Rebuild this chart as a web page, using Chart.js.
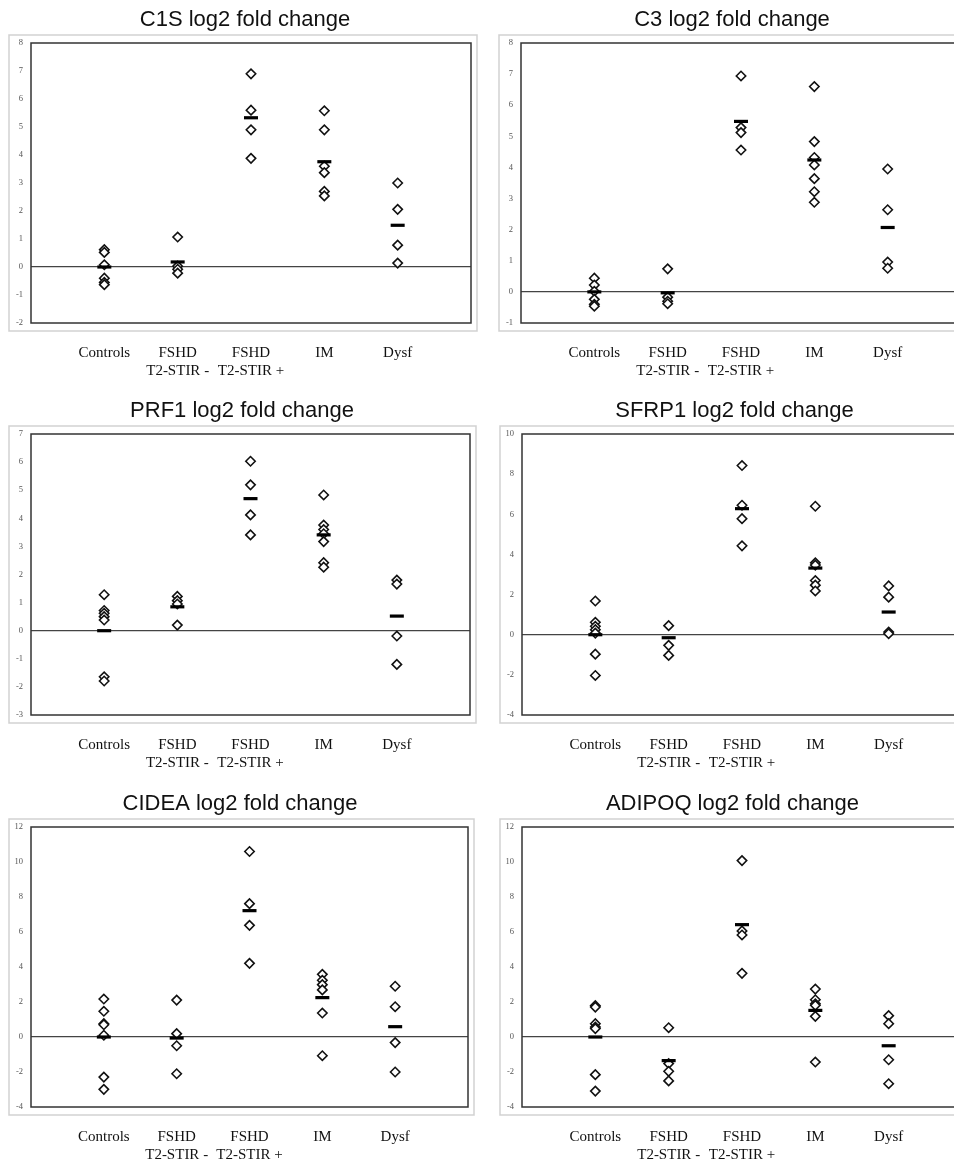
<!DOCTYPE html>
<html>
<head>
<meta charset="utf-8">
<script src="https://cdn.jsdelivr.net/npm/chart.js@4.4.1/dist/chart.umd.min.js"></script>
<style>
html,body{margin:0;padding:0;background:#fff;overflow:hidden;width:954px;height:1163px;position:relative;}
canvas{position:absolute;}
</style>
</head>
<body>
<canvas id="p1"></canvas>
<canvas id="p2"></canvas>
<canvas id="p3"></canvas>
<canvas id="p4"></canvas>
<canvas id="p5"></canvas>
<canvas id="p6"></canvas>
<script>
// ---------- data ----------
const categories = ['Controls', ['FSHD', 'T2-STIR -'], ['FSHD', 'T2-STIR +'], 'IM', 'Dysf'];

const C1S_points = [
  [0.62, 0.52, 0.08, -0.4, -0.55, -0.63],
  [1.07, 0.03, -0.08, -0.22],
  [6.9, 5.6, 4.9, 3.88],
  [5.58, 4.9, 3.6, 3.37, 2.7, 2.54],
  [3.0, 2.06, 0.78, 0.14]
];
const C1S_means = [0, 0.18, 5.33, 3.76, 1.49];

const C3_points = [
  [0.44, 0.22, 0.02, -0.24, -0.4, -0.46],
  [0.74, -0.17, -0.3, -0.38],
  [6.94, 5.28, 5.12, 4.56],
  [6.6, 4.83, 4.32, 4.08, 3.64, 3.22, 2.88],
  [3.95, 2.64, 0.96, 0.76]
];
const C3_means = [0, -0.03, 5.48, 4.24, 2.07];

const PRF1_points = [
  [1.28, 0.72, 0.62, 0.5, 0.38, -1.64, -1.79],
  [1.22, 1.07, 0.95, 0.2],
  [6.03, 5.19, 4.12, 3.41],
  [4.83, 3.76, 3.6, 3.45, 3.17, 2.42, 2.26],
  [1.8, 1.66, -0.19, -1.2]
];
const PRF1_means = [0, 0.85, 4.7, 3.41, 0.52];

const SFRP1_points = [
  [1.68, 0.62, 0.42, 0.25, 0.08, -0.97, -2.03],
  [0.45, -0.53, -1.03],
  [8.43, 6.45, 5.78, 4.43],
  [6.4, 3.58, 3.47, 2.7, 2.47, 2.18],
  [2.43, 1.87, 0.13, 0.05]
];
const SFRP1_means = [0, -0.15, 6.28, 3.32, 1.13];

const CIDEA_points = [
  [2.17, 1.47, 0.76, 0.7, 0.1, -2.29, -2.99],
  [2.11, 0.19, -0.5, -2.1],
  [10.6, 7.62, 6.38, 4.21],
  [3.58, 3.24, 2.99, 2.69, 1.37, -1.07],
  [2.9, 1.73, -0.32, -2.0]
];
const CIDEA_means = [0, -0.06, 7.22, 2.25, 0.59];

const ADIPOQ_points = [
  [1.79, 1.71, 0.76, 0.57, 0.48, -2.15, -3.09],
  [0.53, -1.52, -1.96, -2.51],
  [10.08, 6.06, 5.83, 3.64],
  [2.74, 2.13, 1.9, 1.81, 1.18, -1.43],
  [1.22, 0.76, -1.3, -2.67]
];
const ADIPOQ_means = [0, -1.35, 6.42, 1.52, -0.5];

const C1S_yRange = [-2, 8, 1];
const C3_yRange = [-1, 8, 1];
const PRF1_yRange = [-3, 7, 1];
const SFRP1_yRange = [-4, 10, 2];
const CIDEA_yRange = [-4, 12, 2];
const ADIPOQ_yRange = [-4, 12, 2];

// ---------- drawing ----------
const SERIF = "'Liberation Serif', 'Times New Roman', serif";
const SANS = "'Liberation Sans', Arial, Helvetica, sans-serif";

const framePlugin = {
  id: 'frame',
  beforeDraw(chart) {
    const {ctx, chartArea: a} = chart;
    ctx.save();
    ctx.strokeStyle = '#d2d2d2';
    ctx.lineWidth = 1.5;
    ctx.strokeRect(a.left - 22, a.top - 8, a.width + 28, a.height + 16);
    ctx.restore();
  },
  afterDraw(chart) {
    const {ctx, chartArea: a} = chart;
    ctx.save();
    ctx.strokeStyle = '#333';
    ctx.lineWidth = 1.5;
    ctx.strokeRect(a.left, a.top, a.width, a.height);
    ctx.restore();
  }
};

function makeChart(id, title, points, means, yRange, box) {
  const canvas = document.getElementById(id);
  canvas.width = box.w;
  canvas.height = box.h;
  canvas.style.left = box.x + 'px';
  canvas.style.top = box.y + 'px';
  const diamonds = [];
  points.forEach((arr, i) => arr.forEach(v => diamonds.push({x: i + 1, y: v})));
  const meanPts = means.map((v, i) => ({x: i + 1, y: v}));
  new Chart(canvas, {
    type: 'scatter',
    data: {
      datasets: [
        {data: meanPts, yAxisID: 'y', pointStyle: 'line', pointRadius: 7, pointBorderWidth: 3.2,
         borderColor: '#000', backgroundColor: '#000', pointHoverRadius: 7},
        {data: diamonds, yAxisID: 'y', pointStyle: 'rectRot', pointRadius: 4.7, pointBorderWidth: 1.6,
         borderColor: '#111', backgroundColor: '#fff', pointHoverRadius: 4.7}
      ]
    },
    options: {
      responsive: false,
      animation: false,
      devicePixelRatio: 1,
      events: [],
      layout: {padding: 0},
      plugins: {
        legend: {display: false},
        tooltip: {enabled: false},
        title: {
          display: true, text: title, color: '#111',
          font: {family: SANS, size: 22, weight: 'normal', lineHeight: 1.2},
          padding: {top: 7, bottom: 9.6}
        }
      },
      scales: {
        x: {
          type: 'linear', min: 0, max: 6,
          afterBuildTicks: s => { s.ticks = [1, 2, 3, 4, 5].map(v => ({value: v})); },
          afterFit: s => { s.height = box.h - 43 - box.plotH; },
          grid: {display: false, drawTicks: false},
          border: {display: false},
          ticks: {
            padding: 21, color: '#111', maxRotation: 0, minRotation: 0, autoSkip: false,
            font: {family: SERIF, size: 15, lineHeight: 1.2},
            callback: v => categories[v - 1]
          }
        },
        y: {
          type: 'linear', position: 'left',
          min: yRange[0], max: yRange[1],
          afterFit: s => { s.width = 31; },
          grid: {
            drawTicks: false,
            color: c => (c.tick && c.tick.value === 0) ? '#444' : 'rgba(0,0,0,0)',
            lineWidth: 1.3
          },
          border: {display: false},
          ticks: {stepSize: yRange[2], padding: 8, color: '#555', font: {family: SERIF, size: 8.5}}
        },
        yr: {
          type: 'linear', position: 'right', min: 0, max: 1,
          afterFit: s => { s.width = box.rw; },
          grid: {display: false, drawTicks: false},
          border: {display: false},
          ticks: {display: false}
        }
      }
    },
    plugins: [framePlugin]
  });
}

makeChart('p1', 'C1S log2 fold change', C1S_points, C1S_means, C1S_yRange,
  {x: 0, y: 0, w: 490, h: 391, plotH: 280, rw: 19});
makeChart('p2', 'C3 log2 fold change', C3_points, C3_means, C3_yRange,
  {x: 490, y: 0, w: 484, h: 391, plotH: 280, rw: 13});
makeChart('p3', 'PRF1 log2 fold change', PRF1_points, PRF1_means, PRF1_yRange,
  {x: 0, y: 391, w: 484, h: 391, plotH: 281, rw: 14});
makeChart('p4', 'SFRP1 log2 fold change', SFRP1_points, SFRP1_means, SFRP1_yRange,
  {x: 491, y: 391, w: 487, h: 391, plotH: 281, rw: 16});
makeChart('p5', 'CIDEA log2 fold change', CIDEA_points, CIDEA_means, CIDEA_yRange,
  {x: 0, y: 784, w: 480, h: 379, plotH: 280, rw: 12});
makeChart('p6', 'ADIPOQ log2 fold change', ADIPOQ_points, ADIPOQ_means, ADIPOQ_yRange,
  {x: 491, y: 784, w: 483, h: 379, plotH: 280, rw: 12});
</script>
</body>
</html>
